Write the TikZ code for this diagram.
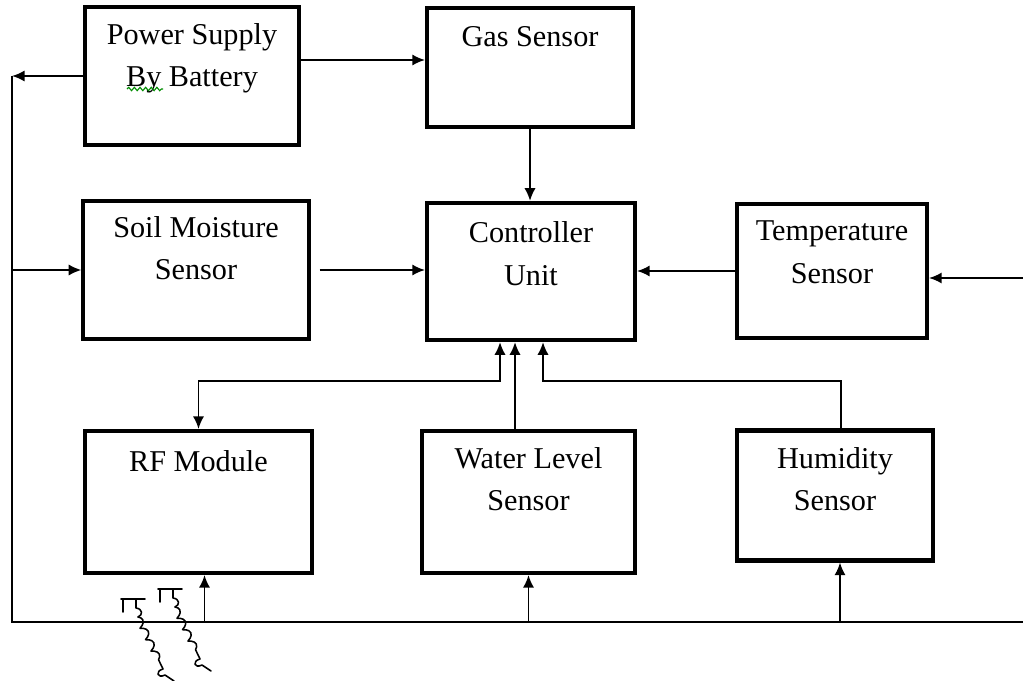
\documentclass[tikz,border=0pt]{standalone}
\usepackage{fontspec}
\setmainfont{Liberation Serif}
\usetikzlibrary{arrows.meta,calc,decorations.pathmorphing}

\begin{document}
\begin{tikzpicture}[x=0.025cm, y=-0.025cm,
  blk/.style={draw, line width=2.9pt, inner sep=0pt},
  lbl/.style={font=\fontsize{21.5}{30}\selectfont, align=center, anchor=north, inner sep=0pt},
  wire/.style={line width=1.3pt},
  arr/.style={wire, -{Latex[length=9pt,width=8pt]}},
  arrs/.style={wire, {Latex[length=9pt,width=8pt]}-{Latex[length=9pt,width=8pt]}},
  aerial/.style={line width=1.1pt, line cap=round, line join=round}]
  \useasboundingbox (0,0) rectangle (1023,681);

  % blocks
  \node[blk, minimum width=5.33cm, minimum height=3.43cm] (psu)   at (192,76)    {};
  \node[blk, minimum width=5.15cm, minimum height=2.98cm] (gas)   at (530,67.5)  {};
  \node[blk, minimum width=5.63cm, minimum height=3.45cm] (soil)  at (196,270)   {};
  \node[blk, minimum width=5.20cm, minimum height=3.43cm] (ctrl)  at (531,271.5) {};
  \node[blk, minimum width=4.75cm, minimum height=3.35cm] (temp)  at (832,271)   {};
  \node[blk, minimum width=5.68cm, minimum height=3.55cm] (rf)    at (198.5,502) {};
  \node[blk, minimum width=5.33cm, minimum height=3.55cm] (water) at (528.5,502) {};
  \node[blk, minimum width=4.88cm, minimum height=3.25cm] (hum)   at (835,495.5) {};

  % labels
  \node[lbl] (psuT)   at ([yshift=-0.45cm]psu.north)   {Power Supply\\By Battery};
  \node[lbl] (gasT)   at ([yshift=-0.5cm]gas.north)    {Gas Sensor};
  \node[lbl] (soilT)  at ([yshift=-0.44cm]soil.north)  {Soil Moisture\\Sensor};
  \node[lbl] (ctrlT)  at ([yshift=-0.52cm]ctrl.north)  {Controller\\Unit};
  \node[lbl] (tempT)  at ([yshift=-0.47cm]temp.north)  {Temperature\\Sensor};
  \node[lbl] (rfT)    at ([yshift=-0.52cm]rf.north)    {RF Module};
  \node[lbl] (waterT) at ([yshift=-0.45cm]water.north) {Water Level\\Sensor};
  \node[lbl] (humT)   at ([yshift=-0.47cm]hum.north)   {Humidity\\Sensor};
  \draw[green!55!black, line width=0.8pt, decorate,
        decoration={snake, amplitude=1.2pt, segment length=4pt}] (127,89) -- (163,89);

  % supply bus
  \coordinate (busL) at (12,622);
  \coordinate (busR) at (1023,622);
  \coordinate (tempIn) at (1023,278);
  \draw[wire] (busL |- psu.west) -- (busL) -- (busR);
  \draw[arr] (psu.west) -- (busL |- psu.west);
  \draw[arr] (busL |- soil.west) -- (soil.west);
  \draw[arr] (tempIn) -- (tempIn -| temp.east);

  % sensors into the controller
  \coordinate (gasIn) at ($(gas.west)+(0,-7.5)$);
  \draw[arr] (psu.east |- gasIn) -- (gasIn);
  \draw[arr] (gas.south) -- (gas.south |- ctrl.north);
  \draw[arr] ($(soil.east)+(9,0)$) -- (soil.east -| ctrl.west);
  \draw[arr] (temp.west) -- (temp.west -| ctrl.east);

  \coordinate (ctrlA) at ($(ctrl.south)+(-31,0)$);
  \coordinate (ctrlB) at ($(ctrl.south)+(-16,0)$);
  \coordinate (ctrlC) at ($(ctrl.south)+(12,0)$);
  \coordinate (jn) at ($(ctrl.south)+(0,39)$);
  \coordinate (humOut) at ($(hum.north)+(6,0)$);
  \draw[arrs] (rf.north) |- (ctrlA |- jn) -- (ctrlA);
  \draw[arr] (ctrlB |- water.north) -- (ctrlB);
  \draw[arr] (humOut) |- (ctrlC |- jn) -- (ctrlC);

  % feeds from the bus
  \coordinate (rfIn) at ($(rf.south)+(6,0)$);
  \coordinate (humIn) at ($(hum.south)+(5,0)$);
  \draw[arr] (rfIn |- busL) -- (rfIn);
  \draw[arr] (water.south |- busL) -- (water.south);
  \draw[arr] (humIn |- busL) -- (humIn);

  % aerials
  \foreach \ax/\ay in {121/599, 158/589}{
    \begin{scope}[shift={(\ax,\ay)}, aerial]
      \draw (0,0) -- (24,0);
      \draw (2,0) -- (2,13);
      \draw (15,0) -- (15,9) .. controls (22,10) and (22,16) .. (17,18);
      \draw[decorate, decoration={coil, aspect=0.5, amplitude=2.2pt, segment length=9pt}] (17,18) -- (42,70);
      \draw (42,70) .. controls (34,72) and (36,80) .. (44,76) -- (53,82);
    \end{scope}
  }
\end{tikzpicture}
\end{document}
